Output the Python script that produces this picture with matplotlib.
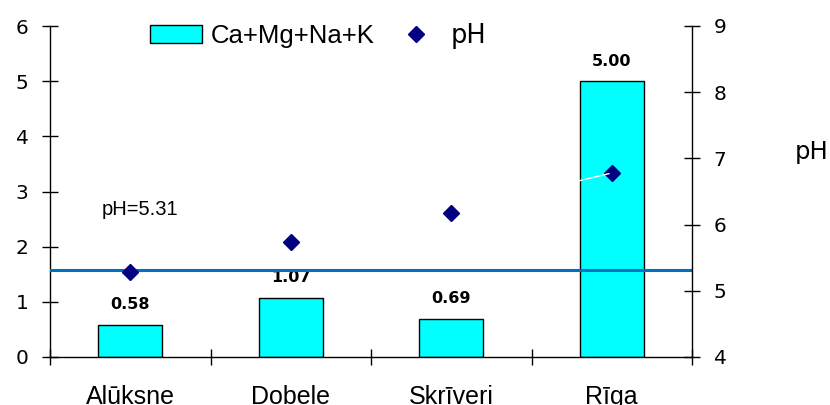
import matplotlib
matplotlib.use("Agg")
import matplotlib.pyplot as plt
import numpy as np

# ---- Data ----
sites = ["Alūksne", "Dobele", "Skrīveri", "Rīga"]
cations = [0.58, 1.07, 0.69, 5.00]   # Ca+Mg+Na+K
ph = [5.28, 5.74, 6.18, 6.78]
ph_mean = 5.31

BAR_COLOR = "#00FFFF"
MARK_COLOR = "#000080"
LINE_COLOR = "#0070C0"

fig = plt.figure(figsize=(8.3, 4.05), dpi=100)
ax = fig.add_axes([50 / 830, 48 / 405, 642 / 830, 331 / 405])
ax2 = ax.twinx()

x = np.arange(len(sites))
bars = ax.bar(x, cations, width=0.4, color=BAR_COLOR, edgecolor="black",
              linewidth=1.0, label="Ca+Mg+Na+K", zorder=2)
for xi, v in zip(x, cations):
    ax.annotate(f"{v:.2f}", (xi, v), xytext=(0, 14.5), textcoords="offset points",
                ha="center", va="center", fontsize=11.5, fontweight="bold",
                family="DejaVu Sans")

pts, = ax2.plot(x, ph, linestyle="none", marker="D", markersize=8.5,
                color=MARK_COLOR, label="pH", zorder=3)
ax2.axhline(ph_mean, color=LINE_COLOR, linewidth=2.2, zorder=2)
# leader line on the Riga point
ax2.annotate("", xy=(x[3], ph[3]), xytext=(-25, -6), textcoords="offset points",
             arrowprops=dict(arrowstyle="-", color="white", lw=1.0))
ax.text(0.06, 2.67, f"pH={ph_mean:.2f}", ha="center", va="center",
        fontsize=14.5, family="Liberation Sans")

# ---- Axes ----
ax.set_xlim(-0.5, len(sites) - 0.5)
ax.set_ylim(0, 6)
ax2.set_ylim(4, 9)
ax.set_yticks(range(0, 7))
ax2.set_yticks(range(4, 10))

ax.set_xticks(x)
ax.set_xticklabels(sites, fontsize=18, family="Liberation Sans")
ax.set_xticks(np.arange(-0.5, len(sites)), minor=True)
ax.tick_params(axis="x", which="major", length=0, pad=20)
ax.tick_params(axis="x", which="minor", direction="inout", length=11, width=1)
ax.tick_params(axis="y", direction="inout", length=11, width=1, labelsize=14.5, pad=10)
ax2.tick_params(axis="y", direction="inout", length=11, width=1, labelsize=14.5, pad=10)

for a in (ax, ax2):
    a.spines["top"].set_visible(False)
    for s in ("left", "right", "bottom"):
        a.spines[s].set_linewidth(1.0)
ax2.spines["left"].set_visible(False)
ax2.spines["bottom"].set_visible(False)
ax.spines["right"].set_visible(False)
ax.set_zorder(ax2.get_zorder() - 1)
ax.patch.set_visible(False)

fig.text(812 / 830, 1 - 152 / 405, "pH", ha="center", va="center", fontsize=17.5)

leg = ax2.legend([bars, pts], ["Ca+Mg+Na+K", "pH"], ncol=2, frameon=False,
                 loc="center left", bbox_to_anchor=(90 / 642, 1 - 10 / 331),
                 fontsize=18.5, handlelength=2.0, handletextpad=0.35,
                 columnspacing=0.6, borderaxespad=0)
leg.get_texts()[0].set_family("Liberation Sans")

fig.savefig("out.png", dpi=100)
